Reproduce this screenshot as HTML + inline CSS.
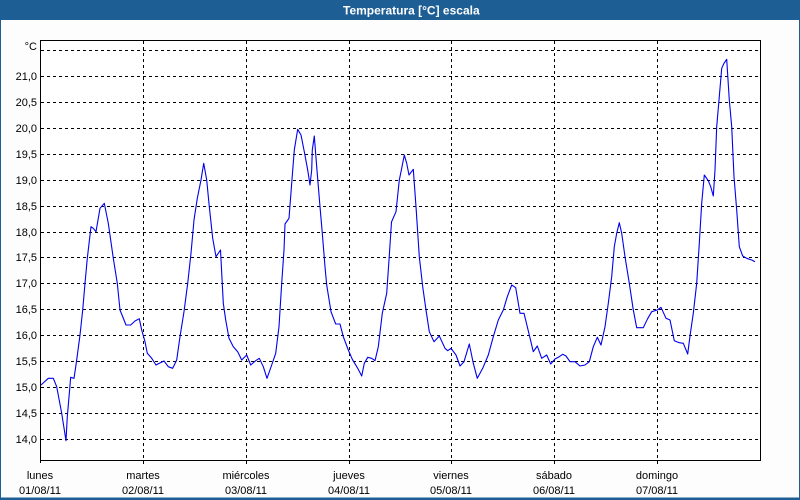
<!DOCTYPE html>
<html>
<head>
<meta charset="utf-8">
<style>
  html,body{margin:0;padding:0;background:#fff;}
  svg{display:block;}
  text{font-family:"Liberation Sans","DejaVu Sans",sans-serif;}
</style>
</head>
<body>
<svg width="800" height="500" viewBox="0 0 800 500" xmlns="http://www.w3.org/2000/svg">
  <rect x="0" y="0" width="800" height="500" fill="#fdfdfd"/>
  <!-- outer frame -->
  <rect x="0.5" y="0.5" width="799" height="498" fill="none" stroke="#1d5e95" stroke-width="1"/>
  <rect x="0" y="497.5" width="800" height="2.5" fill="#1d5e95"/>
  <!-- title bar -->
  <rect x="0" y="0" width="800" height="20" fill="#1d5e95"/>
  <text x="343" y="14.5" font-size="12" font-weight="bold" fill="#ffffff">Temperatura [°C] escala</text>

  <!-- plot background -->
  <rect x="40" y="40" width="720" height="420" fill="#ffffff"/>

  <!-- horizontal grid -->
  <g stroke="#000" stroke-width="1" stroke-dasharray="3,3" shape-rendering="crispEdges">
    <line x1="41" y1="50.5" x2="760" y2="50.5"/>
    <line x1="41" y1="76.5" x2="760" y2="76.5"/>
    <line x1="41" y1="102.5" x2="760" y2="102.5"/>
    <line x1="41" y1="128.5" x2="760" y2="128.5"/>
    <line x1="41" y1="154.5" x2="760" y2="154.5"/>
    <line x1="41" y1="180.5" x2="760" y2="180.5"/>
    <line x1="41" y1="206.5" x2="760" y2="206.5"/>
    <line x1="41" y1="232.5" x2="760" y2="232.5"/>
    <line x1="41" y1="257.5" x2="760" y2="257.5"/>
    <line x1="41" y1="283.5" x2="760" y2="283.5"/>
    <line x1="41" y1="309.5" x2="760" y2="309.5"/>
    <line x1="41" y1="335.5" x2="760" y2="335.5"/>
    <line x1="41" y1="361.5" x2="760" y2="361.5"/>
    <line x1="41" y1="387.5" x2="760" y2="387.5"/>
    <line x1="41" y1="413.5" x2="760" y2="413.5"/>
    <line x1="41" y1="439.5" x2="760" y2="439.5"/>
  </g>
  <!-- vertical grid -->
  <g stroke="#000" stroke-width="1" stroke-dasharray="3,3" shape-rendering="crispEdges">
    <line x1="143.5" y1="41" x2="143.5" y2="464"/>
    <line x1="246.5" y1="41" x2="246.5" y2="464"/>
    <line x1="349.5" y1="41" x2="349.5" y2="464"/>
    <line x1="451.5" y1="41" x2="451.5" y2="464"/>
    <line x1="554.5" y1="41" x2="554.5" y2="464"/>
    <line x1="657.5" y1="41" x2="657.5" y2="464"/>
  </g>

  <!-- frame -->
  <g stroke="#000" stroke-width="1" shape-rendering="crispEdges" fill="none">
    <line x1="40.5" y1="40" x2="40.5" y2="463"/>
    <line x1="40" y1="40.5" x2="761" y2="40.5"/>
    <line x1="760.5" y1="40" x2="760.5" y2="461"/>
    <line x1="40" y1="460.5" x2="761" y2="460.5"/>
  </g>

  <!-- y labels -->
  <g font-size="11" fill="#000" text-anchor="end">
    <text x="37" y="50">°C</text>
    <text x="37" y="80">21,0</text>
    <text x="37" y="106">20,5</text>
    <text x="37" y="132">20,0</text>
    <text x="37" y="158">19,5</text>
    <text x="37" y="184">19,0</text>
    <text x="37" y="210">18,5</text>
    <text x="37" y="236">18,0</text>
    <text x="37" y="261">17,5</text>
    <text x="37" y="287">17,0</text>
    <text x="37" y="313">16,5</text>
    <text x="37" y="339">16,0</text>
    <text x="37" y="365">15,5</text>
    <text x="37" y="391">15,0</text>
    <text x="37" y="417">14,5</text>
    <text x="37" y="443">14,0</text>
  </g>

  <!-- x labels -->
  <g font-size="11" fill="#000" text-anchor="middle">
    <text x="40" y="479">lunes</text><text x="40" y="494">01/08/11</text>
    <text x="143" y="479">martes</text><text x="143" y="494">02/08/11</text>
    <text x="246" y="479">miércoles</text><text x="246" y="494">03/08/11</text>
    <text x="349" y="479">jueves</text><text x="349" y="494">04/08/11</text>
    <text x="451" y="479">viernes</text><text x="451" y="494">05/08/11</text>
    <text x="554" y="479">sábado</text><text x="554" y="494">06/08/11</text>
    <text x="657" y="479">domingo</text><text x="657" y="494">07/08/11</text>
  </g>

  <!-- series -->
  <polyline fill="none" stroke="#0000ee" stroke-width="1.1" stroke-linejoin="round" points="
41,385 48.3,378.3 53.3,378.3 56.7,386.7 61.7,413.3 66,440.7 67.3,416.7 70.7,377.3 74,378.3 76.7,360 80,335 82.7,310 85,283.3 87.3,258.3 91,226.7 93.3,228.3 96,231.7 100,208.3 104.3,203.3 108.3,223.3 113.3,258.3 117.3,283.3 120,310 126,325 130.7,325 135,321 139.3,318.7 141.7,330 145,341.7 147.3,353.3 151.7,358.3 156,365 159.3,363.3 164,361 168.3,366.7 172.7,368.3 176.7,360 180,336.7 184,311.7 187.7,283.3 191,253.3 194,220 197.3,198.3 201,180 203.7,163.3 206.7,180 209.3,206.7 212.7,238.3 216,256.7 220.5,250 223.3,303.3 225.7,320 229,338.3 233.3,346.7 237.7,351.7 241.7,360 246.7,355 250.7,365 255.7,360.7 259.3,358.3 263.3,366.7 267,378.3 271.7,365 275.7,353.3 279,326.7 281.7,283.3 284,250 285,224 289,218.3 291.7,183.3 294.3,150 297.7,129.3 301,135 304.3,151.7 307.7,170 310,185 311.7,170 312.3,150 314.3,136 316.7,166.7 320,206.7 322.3,233.3 325,266.7 326.7,285 331,311.7 335.7,324 340,324 343.3,336.7 348.3,350 352.3,359.3 357.7,368.3 361.7,376 364.3,363.3 367.7,357.3 371.7,358.3 375,360.7 378.3,346.7 382.3,313.3 386.7,293.3 389,260 391.5,222 396,211.7 399.3,180 401.7,168.3 404.3,155 406.7,163.3 409,175 413.3,169.3 416,206.7 419.3,256.7 422.7,286.7 426,310 429.3,331.7 434,341.7 439.3,336 445,348.3 447.7,350.7 451,348.3 456,355 460,366 464,361.7 469.3,344 473.3,363.3 477.3,378.3 482.7,368.3 488.3,355 493.3,336.7 498.3,320 503.3,310 507.3,296.7 511.7,285 515.7,287.7 520,313.3 524,313.3 529.3,335 533.3,351.7 537.3,346 541.7,358.3 546.7,355 550.7,364 555,359 558.3,357.3 562.7,354.3 566,356 570,361.7 575,361.7 580,366 585,365 589.3,361.7 593.3,346.7 597.3,337.3 601,345 605,326.7 608.3,303.3 611.7,276.7 614.3,246.7 616.7,233.3 619.3,222.7 621.7,233.3 625,256.7 629.3,283.3 633.3,310 636.7,327.7 643.3,327.7 647.3,319.3 651.7,311.7 657.3,310 661,307.3 666,318.3 670,320 674.3,340.7 679.3,342.7 683.3,343.3 687.7,354 690,336 693.3,313.3 696.7,283.3 699.3,243.3 701.7,203.3 704.3,175 708.3,180.7 710.7,186.7 713.3,196 715,170 716.7,126.7 719,100 721.7,68.3 724,63.3 726.7,59.3 729.3,100 731.7,126.7 734,176.7 736.7,210 739.3,246.7 742.7,256 746.7,258.3 751.7,260 755,261.7"/>
</svg>
</body>
</html>
